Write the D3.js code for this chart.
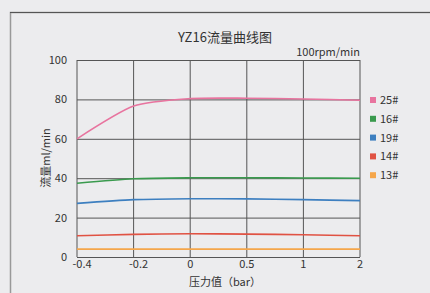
<!DOCTYPE html>
<html>
<head>
<meta charset="utf-8">
<script src="https://cdn.jsdelivr.net/npm/d3@7"></script>
<style>
body{margin:0;background:#ececee;}
svg{display:block;font-family:"Noto Sans CJK SC","Noto Sans",sans-serif;}
</style>
</head>
<body>
<svg width="430" height="293"></svg>
<script>
var pressure=["-0.4","-0.2","0","0.5","1","2"];
var yTicks=[0,20,40,60,80,100];
var names=["25#","16#","19#","14#","13#"];
var colors=["#e8749f","#3a9a4e","#3d7fc0","#e05243","#f5a64a"];
var s25=[60,76.6,80.4,80.6,80.2,79.6];
var s16=[37.4,39.7,40.2,40.2,40.1,40.0];
var s19=[27.2,29.1,29.6,29.5,29.1,28.6];
var s14=[10.8,11.5,11.8,11.6,11.3,10.8];
var s13=[4,4,4,4,4,4];
var series=[s25,s16,s19,s14,s13];

var svg=d3.select("svg");
var m={l:77,r:360,t:60,b:257};

// frame
svg.append("path").attr("d","M10.5,300 L10.5,12.5 L440,12.5")
   .attr("fill","none").attr("stroke","#999").attr("stroke-width",1.5);
svg.append("line").attr("x1",10).attr("x2",440).attr("y1",12.5).attr("y2",12.5)
   .attr("stroke","#555").attr("stroke-width",1);

var x=d3.scalePoint().domain(pressure).range([m.l,m.r]);
var y=d3.scaleLinear().domain([0,100]).range([m.b,m.t]);

var g=svg.append("g");
g.selectAll(".vg").data(pressure).enter().append("line")
   .attr("x1",function(d){return x(d);}).attr("x2",function(d){return x(d);})
   .attr("y1",m.t).attr("y2",m.b).attr("stroke","#555").attr("stroke-width",1);
g.selectAll(".hg").data(yTicks).enter().append("line")
   .attr("x1",m.l).attr("x2",m.r)
   .attr("y1",function(d){return y(d)+0.5;}).attr("y2",function(d){return y(d)+0.5;})
   .attr("stroke","#555").attr("stroke-width",1);

g.selectAll(".yl").data(yTicks).enter().append("text")
   .attr("x",m.l-10).attr("y",function(d){return y(d)+4;})
   .attr("text-anchor","end").attr("font-size",11).attr("fill","#333")
   .text(function(d){return d;});
g.selectAll(".xl").data(pressure).enter().append("text")
   .attr("x",function(d){return x(d)+(+d<0?5:0);}).attr("y",m.b+11)
   .attr("text-anchor","middle").attr("font-size",11).attr("fill","#333")
   .text(function(d){return d;});

var line=d3.line().x(function(d,i){return x(pressure[i]);}).y(function(d){return y(d);})
   .curve(d3.curveCardinal.tension(0.3));
svg.selectAll(".ser").data(series).enter().append("path")
   .attr("d",function(d){return line(d);})
   .attr("fill","none").attr("stroke",function(d,i){return colors[i];}).attr("stroke-width",1.6);

svg.append("text").attr("x",225).attr("y",42).attr("text-anchor","middle")
   .attr("font-size",13).attr("fill","#333").text("YZ16流量曲线图");
svg.append("text").attr("x",m.r).attr("y",56).attr("text-anchor","end")
   .attr("font-size",11).attr("fill","#333").text("100rpm/min");
svg.append("text").attr("transform","translate(50,158) rotate(-90)").attr("text-anchor","middle")
   .attr("font-size",11).attr("fill","#333").text("流量ml/min");
svg.append("text").attr("x",225).attr("y",286).attr("text-anchor","middle")
   .attr("font-size",11).attr("fill","#333").text("压力值（bar）");

var lg=svg.selectAll(".lg").data(names).enter().append("g")
   .attr("transform",function(d,i){return "translate(370,"+(100+i*18.8)+")";});
lg.append("rect").attr("x",0).attr("y",-3).attr("width",6).attr("height",6)
   .attr("fill",function(d,i){return colors[i];});
lg.append("text").attr("x",10).attr("y",4).attr("font-size",11).attr("fill","#333")
   .text(function(d){return d;});
</script>
</body>
</html>
